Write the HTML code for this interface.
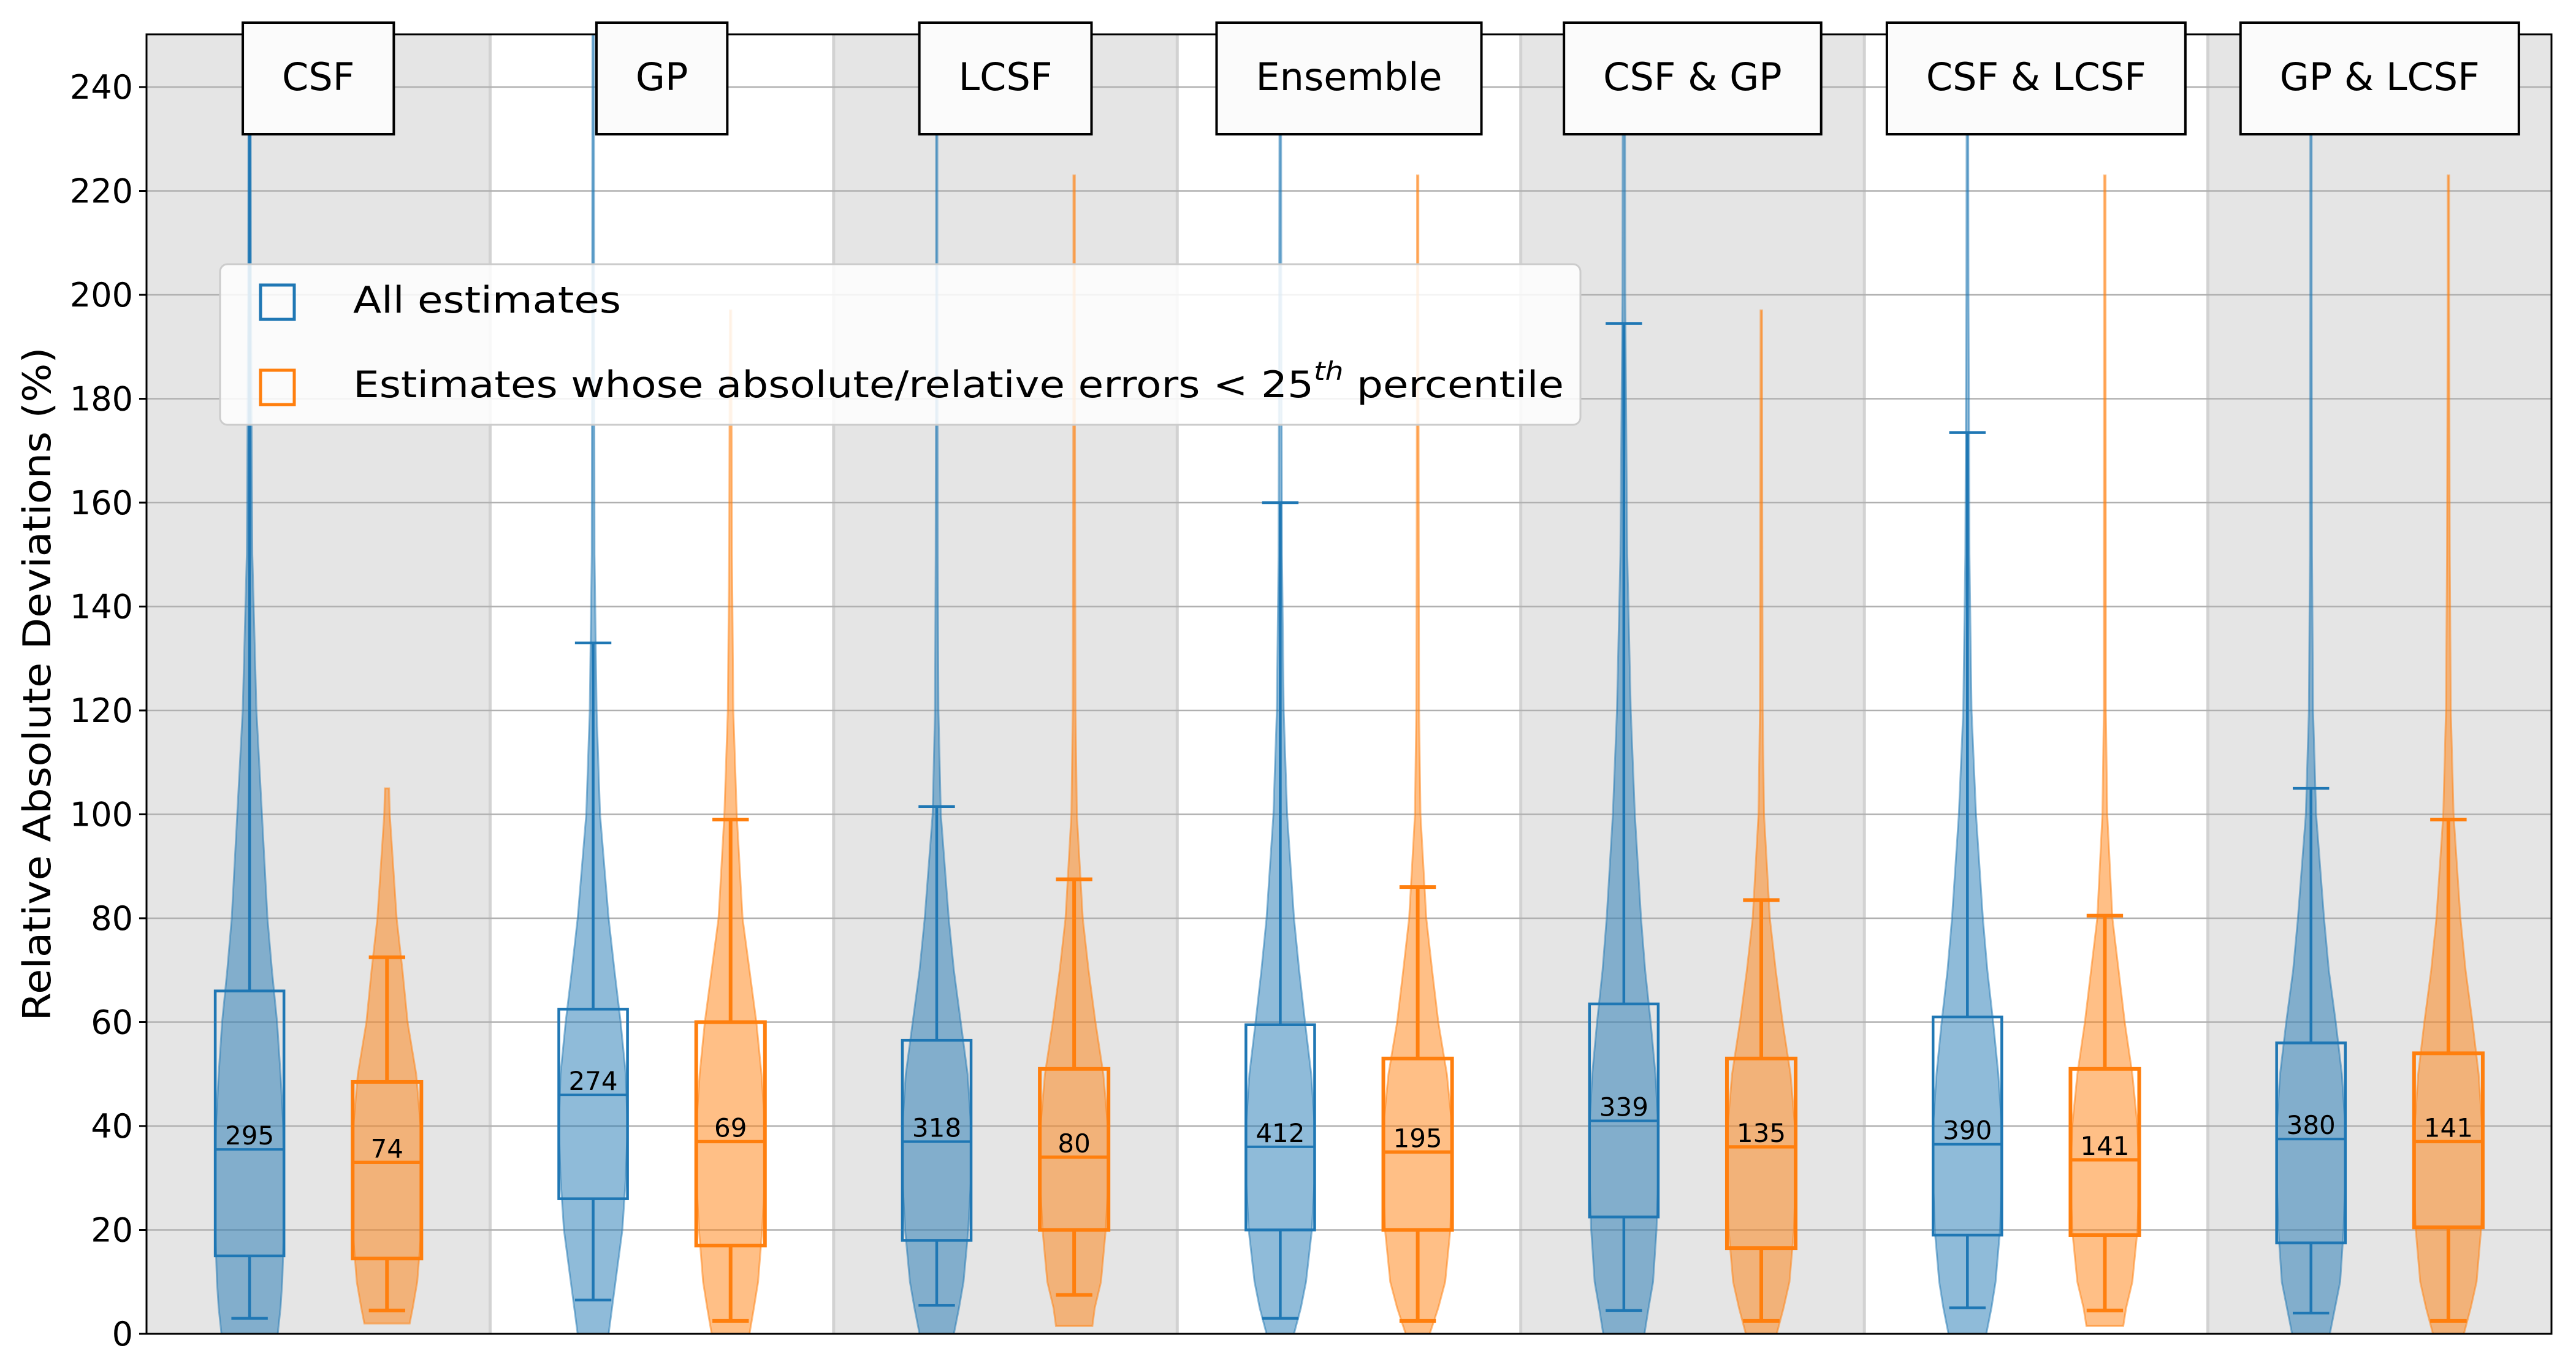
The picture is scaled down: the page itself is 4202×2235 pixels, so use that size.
<!DOCTYPE html>
<html><head><meta charset="utf-8"><style>
html,body{margin:0;padding:0;background:#fff;}
svg{display:block;font-family:"DejaVu Sans","Liberation Sans",sans-serif;}
</style></head><body>
<svg id="chart" width="4202" height="2235" viewBox="0 0 4202 2235" xmlns="http://www.w3.org/2000/svg">
<defs><clipPath id="plotclip"><rect x="239" y="56" width="3923" height="2120"/></clipPath></defs>
<g id="bands"></g>
<g id="grid"></g>
<g id="marks" clip-path="url(#plotclip)"></g>
<g id="yaxis"></g>
<rect x="239" y="56" width="3923" height="2120" fill="none" stroke="#000" stroke-width="3"/>
<text transform="translate(82,1116) rotate(-90)" text-anchor="middle" font-size="62" textLength="1099" lengthAdjust="spacingAndGlyphs">Relative Absolute Deviations (%)</text>
<g id="titles"></g>
<g>
<rect x="359" y="431" width="2219" height="262" rx="12" fill="#ffffff" fill-opacity="0.85" stroke="#cccccc" stroke-width="3"/>
<rect x="425" y="465" width="55" height="56" fill="none" stroke="#1f77b4" stroke-width="5"/>
<text x="576" y="510" font-size="60" textLength="437" lengthAdjust="spacingAndGlyphs">All estimates</text>
<rect x="425" y="604" width="55" height="56" fill="none" stroke="#ff7f0e" stroke-width="5"/>
<text x="576" y="648" font-size="60" textLength="1975" lengthAdjust="spacingAndGlyphs">Estimates whose absolute/relative errors &lt; 25<tspan font-size="42" dy="-28" font-style="italic">th</tspan><tspan dy="28"> percentile</tspan></text>
</g>
</svg>
<script>
const groups = ["CSF","GP","LCSF","Ensemble","CSF & GP","CSF & LCSF","GP & LCSF"];
const yTicks = [0,20,40,60,80,100,120,140,160,180,200,220,240];
const levels = [0,5,10,20,30,40,50,60,70,80,100,120,150,200,250];
// blue (all estimates)
const blueLow  = [3,6.5,5.5,3,4.5,5,4];
const blueQ1   = [15,26,18,20,22.5,19,17.5];
const blueMed  = [35.5,46,37,36,41,36.5,37.5];
const blueQ3   = [66,62.5,56.5,59.5,63.5,61,56];
const blueHigh = [300,133,101.5,160,194.5,173.5,105];
const blueCount= [295,274,318,412,339,390,380];
const blueVMin = [0,0,0,0,0,0,0];
const blueVMax = [300,300,300,300,300,300,300];
const blueWidth = [
 [0.82,0.9,0.95,1.0,1.0,0.98,0.9,0.8,0.65,0.52,0.36,0.2,0.08,0.04,0.03],
 [0.45,0.55,0.65,0.85,0.95,1.0,0.95,0.8,0.62,0.45,0.2,0.1,0.04,0.03,0.02],
 [0.5,0.65,0.78,0.92,1.0,1.0,0.9,0.7,0.5,0.35,0.12,0.05,0.03,0.02,0.02],
 [0.4,0.6,0.75,0.92,1.0,1.0,0.9,0.72,0.55,0.4,0.2,0.1,0.05,0.03,0.02],
 [0.6,0.72,0.85,0.95,1.0,1.0,0.92,0.78,0.62,0.5,0.32,0.2,0.1,0.04,0.03],
 [0.55,0.7,0.82,0.95,1.0,1.0,0.9,0.75,0.58,0.45,0.25,0.12,0.06,0.03,0.02],
 [0.55,0.7,0.85,0.95,1.0,1.0,0.9,0.72,0.52,0.38,0.15,0.06,0.03,0.02,0.02]];
// orange (subset)
const orgLow  = [4.5,2.5,7.5,2.5,2.5,4.5,2.5];
const orgQ1   = [14.5,17,20,20,16.5,19,20.5];
const orgMed  = [33,37,34,35,36,33.5,37];
const orgQ3   = [48.5,60,51,53,53,51,54];
const orgHigh = [72.5,99,87.5,86,83.5,80.5,99];
const orgCount= [74,69,80,195,135,141,141];
const orgVMin = [2,0,1.5,0,0,1.5,0];
const orgVMax = [105,197,223,223,197,223,223];
const orgWidth = [
 [0.6,0.75,0.88,1.0,1.0,0.98,0.85,0.6,0.45,0.28,0.08,0,0,0,0],
 [0.55,0.68,0.8,0.92,1.0,1.0,0.9,0.75,0.55,0.35,0.18,0.08,0.04,0.02,0.02],
 [0.5,0.6,0.78,0.92,1.0,0.98,0.85,0.62,0.42,0.25,0.08,0.04,0.03,0.02,0.02],
 [0.35,0.6,0.8,0.95,1.0,1.0,0.85,0.6,0.42,0.25,0.08,0.04,0.03,0.02,0.02],
 [0.45,0.65,0.82,0.95,1.0,0.98,0.85,0.62,0.42,0.25,0.08,0.04,0.03,0.02,0.02],
 [0.5,0.62,0.8,0.95,1.0,0.95,0.8,0.58,0.4,0.22,0.07,0.03,0.03,0.02,0.02],
 [0.45,0.65,0.82,0.95,1.0,0.98,0.88,0.7,0.5,0.35,0.15,0.07,0.04,0.02,0.02]];

const NS="http://www.w3.org/2000/svg";
const L=239,R=4162,T=56,B=2176,YMAX=250.15;
function X(v){return L+(v-0.5)*(R-L)/7;}
function Y(v){return B-v*(B-T)/YMAX;}
function mk(tag,attrs,parent){const e=document.createElementNS(NS,tag);for(const k in attrs)e.setAttribute(k,attrs[k]);parent.appendChild(e);return e;}
const bands=document.getElementById('bands'),grid=document.getElementById('grid'),marks=document.getElementById('marks'),yaxis=document.getElementById('yaxis'),titles=document.getElementById('titles');
groups.forEach((g,i)=>{
  const r=mk('rect',{x:X(i+0.5),y:T,width:X(i+1.5)-X(i+0.5),height:B-T,fill:i%2===0?'#e5e5e5':'#ffffff'},bands);
  
  
  if(i>0){const l=mk('line',{x1:X(i+0.5),x2:X(i+0.5),y1:T,y2:B,stroke:'#d2d2d2','stroke-width':5},bands);
  
  }
});
yTicks.forEach(t=>{
  const gl=mk('line',{x1:L,x2:R,y1:Y(t),y2:Y(t),stroke:'#b0b0b0','stroke-width':2.5},grid);
  
  
  const tk=mk('line',{x1:L-12,x2:L,y1:Y(t),y2:Y(t),stroke:'#000','stroke-width':3},yaxis);
  
  
  const tx=mk('text',{x:L-22,y:Y(t)+19,'text-anchor':'end','font-size':54},yaxis);
  
  
  tx.textContent=t;
});
const HW=0.1; // half width in group units
function violin(cx,wid,vmin,vmax,color,name){
  const pts=[];const ys=[vmin];
  levels.forEach(l=>{if(l>vmin&&l<vmax)ys.push(l);});ys.push(vmax);
  function w(v){for(let k=0;k<levels.length-1;k++){if(v>=levels[k]&&v<=levels[k+1]){const f=(v-levels[k])/(levels[k+1]-levels[k]);return wid[k]+(wid[k+1]-wid[k])*f;}}return wid[wid.length-1];}
  ys.forEach(v=>pts.push([X(cx+HW*w(v)),Y(v)]));
  for(let k=ys.length-1;k>=0;k--){pts.push([X(cx-HW*w(ys[k])),Y(ys[k])]);}
  const p=mk('path',{d:'M'+pts.map(p=>p[0].toFixed(1)+','+p[1].toFixed(1)).join('L')+'Z',fill:color,'fill-opacity':0.5,stroke:color,'stroke-opacity':0.5,'stroke-width':3},marks);
  
  
}
function box(cx,lo,q1,md,q3,hi,cnt,color,sw,name){
  const g=mk('g',{},marks);
  
  
  mk('line',{x1:X(cx),x2:X(cx),y1:Y(q3),y2:Y(hi),stroke:color,'stroke-width':sw},g);
  mk('line',{x1:X(cx),x2:X(cx),y1:Y(q1),y2:Y(lo),stroke:color,'stroke-width':sw},g);
  mk('line',{x1:X(cx-0.053),x2:X(cx+0.053),y1:Y(hi),y2:Y(hi),stroke:color,'stroke-width':sw},g);
  mk('line',{x1:X(cx-0.053),x2:X(cx+0.053),y1:Y(lo),y2:Y(lo),stroke:color,'stroke-width':sw},g);
  mk('rect',{x:X(cx-0.1),y:Y(q3),width:X(cx+0.1)-X(cx-0.1),height:Y(q1)-Y(q3),fill:'none',stroke:color,'stroke-width':sw},g);
  mk('line',{x1:X(cx-0.1),x2:X(cx+0.1),y1:Y(md),y2:Y(md),stroke:color,'stroke-width':sw*0.9},g);
  const t=mk('text',{x:X(cx),y:Y(md)-8,'text-anchor':'middle','font-size':42},g);
  
  
  t.textContent=cnt;
}
groups.forEach((g,i)=>{
  const c=i+1;
  violin(c-0.2,blueWidth[i],blueVMin[i],blueVMax[i],'#1f77b4','violin-all-'+i);
  violin(c+0.2,orgWidth[i],orgVMin[i],orgVMax[i],'#ff7f0e','violin-subset-'+i);
  box(c-0.2,blueLow[i],blueQ1[i],blueMed[i],blueQ3[i],blueHigh[i],blueCount[i],'#1f77b4',4.5,'box-all-'+i);
  box(c+0.2,orgLow[i],orgQ1[i],orgMed[i],orgQ3[i],orgHigh[i],orgCount[i],'#ff7f0e',6,'box-subset-'+i);
});
groups.forEach((g,i)=>{
  const cx=X(i+1);
  const bx=mk('rect',{x:0,y:37,width:10,height:182,fill:'#fbfbfb',stroke:'#000','stroke-width':4},titles);
  
  
  const t=mk('text',{x:cx,y:147,'text-anchor':'middle','font-size':62},titles);
  
  
  t.textContent=g;
  const w=t.getComputedTextLength();
  bx.setAttribute('x',cx-w/2-64);bx.setAttribute('width',w+128);
});
</script>
</body></html>
